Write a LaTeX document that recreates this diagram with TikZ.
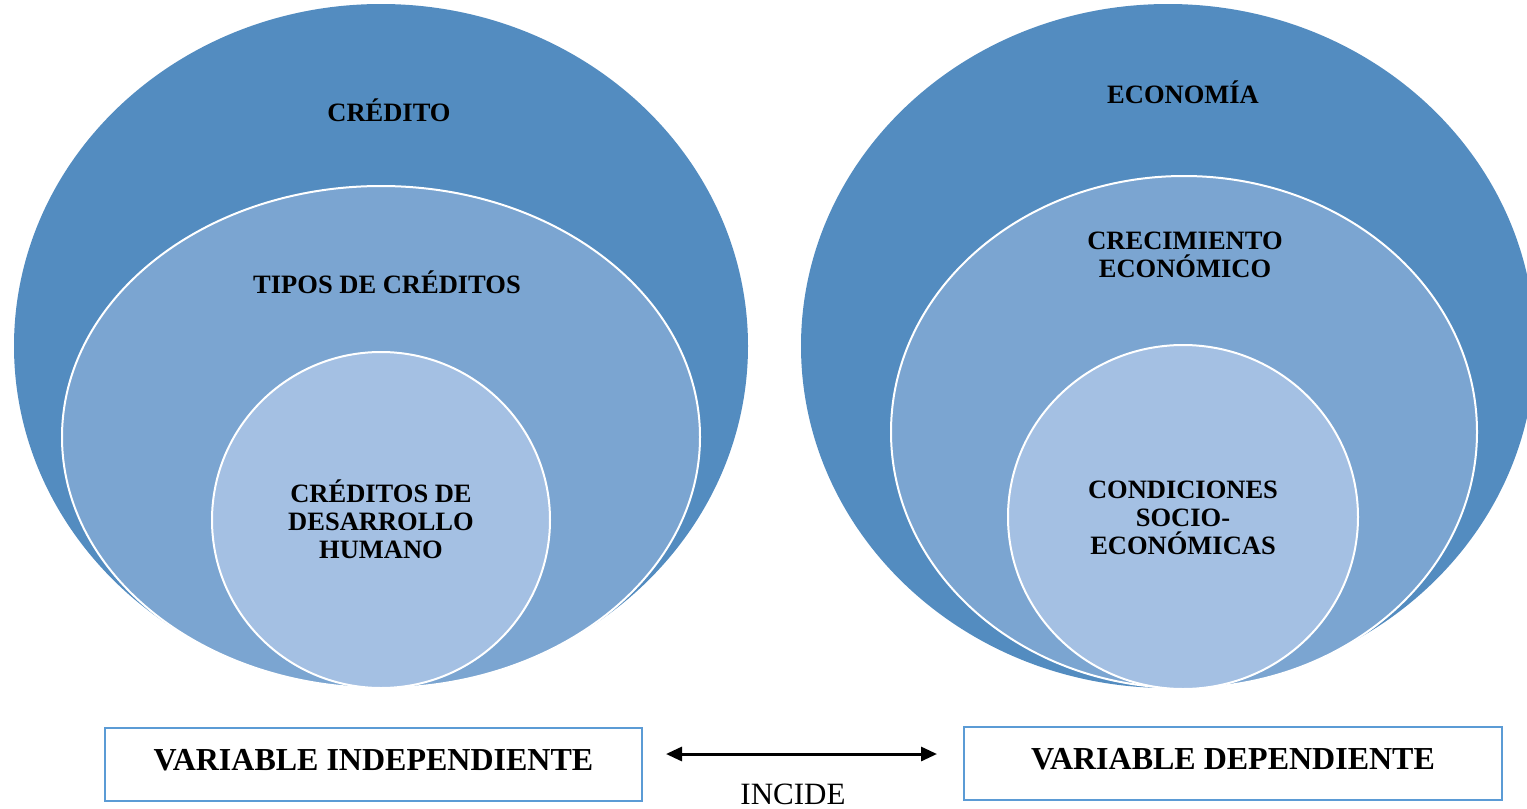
\documentclass[tikz,border=0pt]{standalone}
\usepackage{fontspec}
\setmainfont{Liberation Serif}
\usetikzlibrary{shapes.geometric,arrows.meta}
\definecolor{outerblue}{RGB}{83,140,192}
\definecolor{midblue}{RGB}{123,165,209}
\definecolor{innerblue}{RGB}{164,192,227}
\definecolor{boxblue}{RGB}{91,155,213}
\tikzset{
  outerell/.style={ellipse, fill=outerblue, draw=none, inner sep=0pt, outer sep=0pt},
  midell/.style={ellipse, fill=midblue, draw=white, line width=2pt, inner sep=0pt, outer sep=0pt},
  innerell/.style={ellipse, fill=innerblue, draw=white, line width=2pt, inner sep=0pt, outer sep=0pt},
  lbl/.style={font=\fontsize{26.5}{28.2}\selectfont\bfseries, align=center, inner sep=0pt},
  varbox/.style={draw=boxblue, line width=2.5pt, fill=white, minimum height=73pt,
     font=\fontsize{32}{36}\selectfont\bfseries, text depth=10pt, inner sep=0pt},
}
\begin{document}
\begin{tikzpicture}[x=1pt,y=-1pt]
\useasboundingbox (0,0) rectangle (1527,809);
% left group
\node[outerell, minimum width=734pt, minimum height=684pt] (lo) at (381,346) {};
\node[midell, minimum width=638pt, minimum height=502pt] (lm) at (381,437) {};
\node[innerell, minimum width=338pt, minimum height=336pt] (li) at (381,520) {};
\node[lbl] (lot) at (389,110.5) {CRÉDITO};
\node[lbl] (lmt) at (387,282.5) {TIPOS DE CRÉDITOS};
\node[lbl] (lit) at (381,519.5) {CRÉDITOS DE\\DESARROLLO\\HUMANO};
% right group
\node[outerell, minimum width=734pt, minimum height=684pt] (ro) at (1168,346) {};
\node[midell, minimum width=586pt, minimum height=512pt] (rm) at (1184,432) {};
\node[innerell, minimum width=350pt, minimum height=344pt] (ri) at (1183,517) {};
\node[lbl] (rot) at (1183,92.5) {ECONOMÍA};
\node[lbl] (rmt) at (1185,255) {CRECIMIENTO\\ECONÓMICO};
\node[lbl] (rit) at (1183,518) {CONDICIONES\\SOCIO-\\ECONÓMICAS};
% boxes
\node[varbox, minimum width=537pt] (vi) at (373.5,764.5) {VARIABLE INDEPENDIENTE};
\node[varbox, minimum width=538pt] (vd) at (1233,763.5) {VARIABLE DEPENDIENTE};
% arrow
\coordinate (al) at (666,754);
\coordinate (ar) at (937,754);
\draw[{Triangle[length=16pt,width=14pt]}-{Triangle[length=16pt,width=14pt]}, line width=3pt] (al) -- (ar);
\node[font=\fontsize{31}{34}\selectfont, inner sep=0pt] (inc) at (793,794) {INCIDE};
\end{tikzpicture}
\end{document}
